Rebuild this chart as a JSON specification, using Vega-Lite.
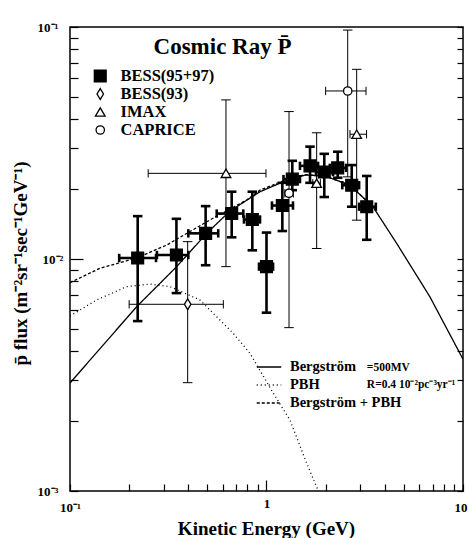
{
  "$schema": "https://vega.github.io/schema/vega-lite/v6.json",
  "width": 393,
  "height": 464,
  "autosize": {"type": "none"},
  "padding": {"left": 70, "top": 27, "right": 5, "bottom": 47},
  "background": "white",
  "config": {
    "view": {"stroke": "black", "strokeWidth": 1.5},
    "font": "Liberation Serif",
    "axis": {"domain": false, "grid": false, "ticks": true, "tickColor": "black", "labelColor": "black", "titleColor": "black", "labelFont": "Liberation Serif", "titleFont": "Liberation Serif", "labelFontWeight": "bold", "titleFontWeight": "bold"},
    "legend": {"labelFont": "Liberation Serif", "labelFontWeight": "bold", "labelColor": "black", "titleFont": "Liberation Serif"}
  },
  "title": {"text": "Cosmic Ray P̄", "anchor": "middle", "dx": -44, "offset": -56, "baseline": "alphabetic", "fontSize": 23, "font": "Liberation Serif", "fontWeight": "bold", "color": "black"},
  "resolve": {"axis": {"y": "independent"}},
  "datasets": {
    "points": [
      {"set": "BESS(95+97)", "E": 0.221, "flux": 0.0101, "ylo": 0.0054, "yhi": 0.0153, "xlo": 0.178, "xhi": 0.274},
      {"set": "BESS(95+97)", "E": 0.348, "flux": 0.0104, "ylo": 0.00713, "yhi": 0.0149, "xlo": 0.277, "xhi": 0.40},
      {"set": "BESS(95+97)", "E": 0.490, "flux": 0.0129, "ylo": 0.0094, "yhi": 0.0169, "xlo": 0.40, "xhi": 0.568},
      {"set": "BESS(95+97)", "E": 0.665, "flux": 0.0157, "ylo": 0.0124, "yhi": 0.0195, "xlo": 0.558, "xhi": 0.762},
      {"set": "BESS(95+97)", "E": 0.847, "flux": 0.0148, "ylo": 0.0109, "yhi": 0.0195, "xlo": 0.768, "xhi": 0.927},
      {"set": "BESS(95+97)", "E": 1.0, "flux": 0.00927, "ylo": 0.00587, "yhi": 0.0130, "xlo": 0.916, "xhi": 1.08},
      {"set": "BESS(95+97)", "E": 1.204, "flux": 0.0170, "ylo": 0.0132, "yhi": 0.0213, "xlo": 1.066, "xhi": 1.364},
      {"set": "BESS(95+97)", "E": 1.353, "flux": 0.0221, "ylo": 0.0198, "yhi": 0.0265, "xlo": 1.22, "xhi": 1.48},
      {"set": "BESS(95+97)", "E": 1.665, "flux": 0.0252, "ylo": 0.0213, "yhi": 0.0305, "xlo": 1.48, "xhi": 1.83},
      {"set": "BESS(95+97)", "E": 1.968, "flux": 0.0237, "ylo": 0.0185, "yhi": 0.0284, "xlo": 1.786, "xhi": 2.18},
      {"set": "BESS(95+97)", "E": 2.303, "flux": 0.0247, "ylo": 0.0224, "yhi": 0.0290, "xlo": 2.10, "xhi": 2.54},
      {"set": "BESS(95+97)", "E": 2.714, "flux": 0.0208, "ylo": 0.0168, "yhi": 0.0254, "xlo": 2.43, "xhi": 2.96},
      {"set": "BESS(95+97)", "E": 3.236, "flux": 0.0168, "ylo": 0.0121, "yhi": 0.0228, "xlo": 2.96, "xhi": 3.6},
      {"set": "BESS(93)", "E": 0.397, "flux": 0.00638, "ylo": 0.00293, "yhi": 0.01188, "xlo": 0.20, "xhi": 0.603},
      {"set": "IMAX", "E": 0.622, "flux": 0.0234, "ylo": 0.00927, "yhi": 0.0485, "xlo": 0.25, "xhi": 0.994},
      {"set": "IMAX", "E": 1.80, "flux": 0.0212, "ylo": 0.0111, "yhi": 0.035, "xlo": 1.72, "xhi": 1.88},
      {"set": "IMAX", "E": 2.877, "flux": 0.0345, "ylo": 0.0147, "yhi": 0.0657, "xlo": 2.66, "xhi": 3.23},
      {"set": "CAPRICE", "E": 1.302, "flux": 0.0192, "ylo": 0.00506, "yhi": 0.0432, "xlo": 1.24, "xhi": 1.37},
      {"set": "CAPRICE", "E": 2.59, "flux": 0.053, "ylo": 0.0226, "yhi": 0.097, "xlo": 2.0, "xhi": 3.21}
    ],
    "curves": [
      {"curve": "Bergström", "E": 0.1, "flux": 0.00292},
      {"curve": "Bergström", "E": 0.2184, "flux": 0.00623},
      {"curve": "Bergström", "E": 0.349, "flux": 0.00927},
      {"curve": "Bergström", "E": 0.496, "flux": 0.0129},
      {"curve": "Bergström", "E": 0.652, "flux": 0.0161},
      {"curve": "Bergström", "E": 0.927, "flux": 0.0195},
      {"curve": "Bergström", "E": 1.213, "flux": 0.0215},
      {"curve": "Bergström", "E": 1.57, "flux": 0.0230},
      {"curve": "Bergström", "E": 1.98, "flux": 0.0228},
      {"curve": "Bergström", "E": 2.66, "flux": 0.0208},
      {"curve": "Bergström", "E": 3.48, "flux": 0.0168},
      {"curve": "Bergström", "E": 4.59, "flux": 0.0117},
      {"curve": "Bergström", "E": 6.78, "flux": 0.00688},
      {"curve": "Bergström", "E": 10, "flux": 0.0037},
      {"curve": "PBH", "E": 0.1, "flux": 0.00568},
      {"curve": "PBH", "E": 0.1367, "flux": 0.00666},
      {"curve": "PBH", "E": 0.1944, "flux": 0.0076},
      {"curve": "PBH", "E": 0.2555, "flux": 0.0078},
      {"curve": "PBH", "E": 0.3226, "flux": 0.0076},
      {"curve": "PBH", "E": 0.4584, "flux": 0.00666},
      {"curve": "PBH", "E": 0.6774, "flux": 0.00478},
      {"curve": "PBH", "E": 0.8241, "flux": 0.00392},
      {"curve": "PBH", "E": 1.083, "flux": 0.00264},
      {"curve": "PBH", "E": 1.317, "flux": 0.00202},
      {"curve": "PBH", "E": 1.6, "flux": 0.00132},
      {"curve": "PBH", "E": 1.836, "flux": 0.001},
      {"curve": "Bergström + PBH", "E": 0.1, "flux": 0.00791},
      {"curve": "Bergström + PBH", "E": 0.1421, "flux": 0.00912},
      {"curve": "Bergström + PBH", "E": 0.2184, "flux": 0.0101},
      {"curve": "Bergström + PBH", "E": 0.3103, "flux": 0.01148},
      {"curve": "Bergström + PBH", "E": 0.5155, "flux": 0.01474},
      {"curve": "Bergström + PBH", "E": 0.7926, "flux": 0.01796},
      {"curve": "Bergström + PBH", "E": 0.927, "flux": 0.0198},
      {"curve": "Bergström + PBH", "E": 1.213, "flux": 0.0217},
      {"curve": "Bergström + PBH", "E": 1.57, "flux": 0.0231},
      {"curve": "Bergström + PBH", "E": 1.98, "flux": 0.0228},
      {"curve": "Bergström + PBH", "E": 2.66, "flux": 0.0208},
      {"curve": "Bergström + PBH", "E": 3.48, "flux": 0.0168}
    ],
    "notes": [
      {"E": 3.24, "flux": 0.00339, "label": "=500MV"},
      {"E": 3.24, "flux": 0.00286, "label": "R=0.4  10⁻²pc⁻³yr⁻¹"}
    ]
  },
  "layer": [
    {
      "data": {"name": "curves"},
      "mark": {"type": "line", "color": "black", "strokeWidth": 1.3, "clip": true},
      "encoding": {
        "x": {"field": "E", "type": "quantitative", "scale": {"type": "log", "domain": [0.1, 10], "nice": false},
          "axis": {"title": "Kinetic Energy (GeV)", "titleFontSize": 19, "titleX": 196, "titleY": 43, "titleBaseline": "alphabetic",
            "values": [0.1,0.2,0.3,0.4,0.5,0.6,0.7,0.8,0.9,1,2,3,4,5,6,7,8,9,10],
            "labelExpr": "datum.value == 0.1 ? '10⁻¹' : datum.value == 1 ? '1' : datum.value == 10 ? '10' : ''",
            "labelFontSize": 13, "labelPadding": 17, "labelFlush": false, "labelOverlap": false,
            "labelAlign": {"condition": {"test": "datum.value == 10", "value": "right"}, "value": "center"},
            "labelOffset": {"condition": {"test": "datum.value == 10", "value": 4}, "value": 0},
            "tickSize": {"condition": {"test": "datum.value == 1", "value": -11}, "value": -7}, "tickWidth": 1.2}},
        "y": {"field": "flux", "type": "quantitative", "scale": {"type": "log", "domain": [0.001, 0.1], "nice": false},
          "axis": {"orient": "left", "title": "p̄ flux (m⁻²sr⁻¹sec⁻¹GeV⁻¹)", "titleFontSize": 19, "titleX": -50, "titleY": 236, "titleAngle": -90, "titleBaseline": "middle", "titleAlign": "center",
            "values": [0.001,0.002,0.003,0.004,0.005,0.006,0.007,0.008,0.009,0.01,0.02,0.03,0.04,0.05,0.06,0.07,0.08,0.09,0.1],
            "labelExpr": "datum.value == 0.1 ? '10⁻¹' : datum.value == 0.01 ? '10⁻²' : datum.value == 0.001 ? '10⁻³' : ''",
            "labelFontSize": 13, "labelPadding": 20, "labelFlush": false, "labelOverlap": false,
            "tickSize": {"condition": {"test": "datum.value == 0.01", "value": -13}, "value": -8}, "tickWidth": 1.2}},
        "strokeDash": {"field": "curve", "type": "nominal",
          "scale": {"domain": ["Bergström", "PBH", "Bergström + PBH"], "range": [[1, 0], [1, 3], [3, 2]]},
          "legend": {"title": null, "orient": "none", "legendX": 186, "legendY": 332, "symbolType": "stroke", "symbolSize": 600, "symbolStrokeWidth": 1.3, "symbolStrokeColor": "black", "labelFontSize": 14.5, "labelOffset": 8, "rowPadding": 2, "clipHeight": 16}}
      }
    },
    {
      "data": {"name": "points"},
      "mark": {"type": "rule", "color": "black"},
      "encoding": {
        "x": {"field": "E", "type": "quantitative"},
        "y": {"field": "ylo", "type": "quantitative",
          "axis": {"orient": "right", "title": null, "labels": false, "values": [0.001,0.002,0.003,0.004,0.005,0.006,0.007,0.008,0.009,0.01,0.02,0.03,0.04,0.05,0.06,0.07,0.08,0.09,0.1], "tickSize": -6, "tickWidth": 1.2}},
        "y2": {"field": "yhi"},
        "strokeWidth": {"condition": {"test": "datum.set == 'BESS(95+97)'", "value": 2.6}, "value": 1}
      }
    },
    {
      "data": {"name": "points"},
      "mark": {"type": "rule", "color": "black"},
      "encoding": {
        "x": {"field": "xlo", "type": "quantitative"},
        "x2": {"field": "xhi"},
        "y": {"field": "flux", "type": "quantitative", "axis": null},
        "strokeWidth": {"condition": {"test": "datum.set == 'BESS(95+97)'", "value": 2.6}, "value": 1}
      }
    },
    {
      "data": {"name": "points"},
      "mark": {"type": "point", "shape": "M-1,0L1,0", "size": 90, "stroke": "black", "filled": false, "opacity": 1},
      "encoding": {
        "x": {"field": "E", "type": "quantitative"},
        "y": {"field": "yhi", "type": "quantitative", "axis": null},
        "strokeWidth": {"condition": {"test": "datum.set == 'BESS(95+97)'", "value": 2.6}, "value": 1}
      }
    },
    {
      "data": {"name": "points"},
      "mark": {"type": "point", "shape": "M-1,0L1,0", "size": 90, "stroke": "black", "filled": false, "opacity": 1},
      "encoding": {
        "x": {"field": "E", "type": "quantitative"},
        "y": {"field": "ylo", "type": "quantitative", "axis": null},
        "strokeWidth": {"condition": {"test": "datum.set == 'BESS(95+97)'", "value": 2.6}, "value": 1}
      }
    },
    {
      "data": {"name": "points"},
      "mark": {"type": "point", "shape": "M0,-1L0,1", "size": 70, "stroke": "black", "filled": false, "opacity": 1},
      "encoding": {
        "x": {"field": "xlo", "type": "quantitative"},
        "y": {"field": "flux", "type": "quantitative", "axis": null},
        "strokeWidth": {"condition": {"test": "datum.set == 'BESS(95+97)'", "value": 2.6}, "value": 1}
      }
    },
    {
      "data": {"name": "points"},
      "mark": {"type": "point", "shape": "M0,-1L0,1", "size": 70, "stroke": "black", "filled": false, "opacity": 1},
      "encoding": {
        "x": {"field": "xhi", "type": "quantitative"},
        "y": {"field": "flux", "type": "quantitative", "axis": null},
        "strokeWidth": {"condition": {"test": "datum.set == 'BESS(95+97)'", "value": 2.6}, "value": 1}
      }
    },
    {
      "data": {"name": "points"},
      "mark": {"type": "point", "stroke": "black", "strokeWidth": 1.3, "opacity": 1},
      "encoding": {
        "x": {"field": "E", "type": "quantitative"},
        "y": {"field": "flux", "type": "quantitative", "axis": null},
        "shape": {"field": "set", "type": "nominal", "scale": {"domain": ["BESS(95+97)", "BESS(93)", "IMAX", "CAPRICE"], "range": ["square", "M0,-1L0.6,0L0,1L-0.6,0Z", "triangle-up", "circle"]},
          "legend": {"title": null, "orient": "none", "legendX": 22, "legendY": 41, "labelFontSize": 16.5, "labelOffset": 12, "rowPadding": 1, "clipHeight": 16, "symbolStrokeColor": "black", "symbolStrokeWidth": 1.3}},
        "fill": {"field": "set", "type": "nominal", "scale": {"domain": ["BESS(95+97)", "BESS(93)", "IMAX", "CAPRICE"], "range": ["black", "white", "white", "white"]}},
        "size": {"field": "set", "type": "nominal", "scale": {"domain": ["BESS(95+97)", "BESS(93)", "IMAX", "CAPRICE"], "range": [140, 70, 110, 130]}}
      }
    },
    {
      "data": {"name": "notes"},
      "mark": {"type": "text", "align": "left", "baseline": "middle", "font": "Liberation Serif", "fontWeight": "bold", "fontSize": 11.5, "color": "black"},
      "encoding": {
        "x": {"field": "E", "type": "quantitative"},
        "y": {"field": "flux", "type": "quantitative", "axis": null},
        "text": {"field": "label"}
      }
    }
  ]
}
